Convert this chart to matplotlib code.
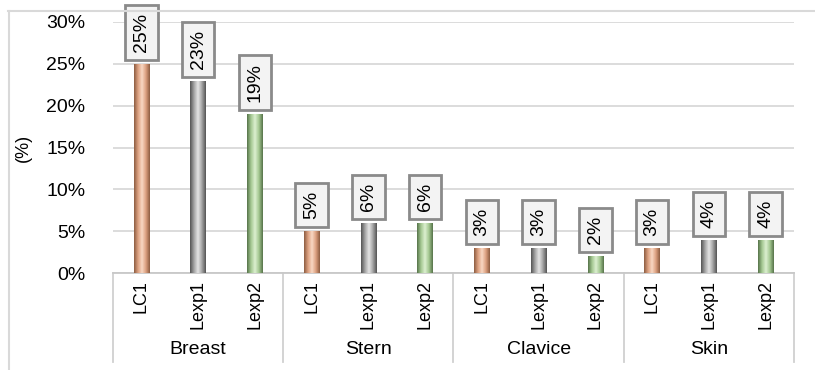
import numpy as np
import matplotlib
matplotlib.use("Agg")
import matplotlib.pyplot as plt
from matplotlib.colors import LinearSegmentedColormap
from matplotlib.lines import Line2D

plt.rcParams['font.family'] = ['Liberation Sans', 'DejaVu Sans']

groups = ['Breast', 'Stern', 'Clavice', 'Skin']
series = ['LC1', 'Lexp1', 'Lexp2']
values = [[25, 23, 19],
          [5, 6, 6],
          [3, 3, 2],
          [3, 4, 4]]

# edge / light / mid shade per series for the bevelled bars
shades = {
    'LC1': ['#8e5e42', '#dca080', '#f8d8c4', '#dca080', '#8e5e42'],
    'Lexp1': ['#555555', '#a4a4a4', '#e6e6e6', '#a4a4a4', '#555555'],
    'Lexp2': ['#57744a', '#a4c892', '#dcf0d0', '#a4c892', '#57744a'],
}

fig = plt.figure(figsize=(8.15, 3.7), dpi=100)
ax = fig.add_axes([113 / 815, 97 / 370, 681 / 815, 251 / 370])

n = len(series)
xs, hs, names, labs = [], [], [], []
for gi, g in enumerate(groups):
    for si, s in enumerate(series):
        xs.append(gi * n + si)
        hs.append(values[gi][si] / 100)
        names.append(s)
        labs.append(values[gi][si])

bars = ax.bar(xs, hs, width=0.27, color='none', edgecolor='none', zorder=3)
grad = np.linspace(0, 1, 64).reshape(1, -1)
for b, s in zip(bars, names):
    cmap = LinearSegmentedColormap.from_list(s, shades[s])
    x0, y0 = b.get_x(), b.get_y()
    im = ax.imshow(grad, cmap=cmap, aspect='auto', zorder=3,
                   extent=(x0, x0 + b.get_width(), y0, y0 + b.get_height()))
    im.set_clip_path(b)

for x, h, v in zip(xs, hs, labs):
    ax.annotate(f'{v}%', xy=(x, h), xytext=(0, 8.5), textcoords='offset points',
                rotation=90, ha='center', va='bottom', fontsize=14, zorder=5,
                bbox=dict(boxstyle='square,pad=0.4', fc='#f3f3f3', ec='#8a8a8a', lw=2))

ax.set_xlim(-0.5, len(xs) - 0.5)
ax.set_ylim(0, 0.30)
ax.set_yticks(np.arange(0, 0.31, 0.05))
ax.set_yticklabels([f'{int(round(t * 100))}%' for t in ax.get_yticks()], fontsize=14)
ax.yaxis.grid(True, color='#d9d9d9', lw=1.3)
ax.set_axisbelow(True)
ax.tick_params(axis='y', length=0, pad=20)
ax.tick_params(axis='x', length=0, pad=5)
ax.set_xticks(xs)
ax.set_xticklabels(names, rotation=90, fontsize=13, va='top')
for sp in ['top', 'right', 'left']:
    ax.spines[sp].set_visible(False)
ax.spines['bottom'].set_color('#c8c8c8')
ax.spines['bottom'].set_linewidth(1.3)
ax.set_ylabel('(%)', fontsize=13, labelpad=10)

# group separators and group names under the axis
tr = ax.get_xaxis_transform()
for k in range(len(groups) + 1):
    ax.add_line(Line2D([k * n - 0.5] * 2, [0, -0.355], transform=tr,
                       color='#d0d0d0', lw=1.3, clip_on=False))
for gi, g in enumerate(groups):
    ax.text(gi * n + 1, -0.305, g, transform=tr, ha='center', va='center', fontsize=14)

# outer chart frame
fig.add_artist(Line2D([8 / 815, 1], [1 - 11 / 370] * 2, color='#d9d9d9', lw=1.5))
fig.add_artist(Line2D([9 / 815] * 2, [0, 1 - 11 / 370], color='#d9d9d9', lw=1.5))

fig.savefig('out.png', dpi=100)
